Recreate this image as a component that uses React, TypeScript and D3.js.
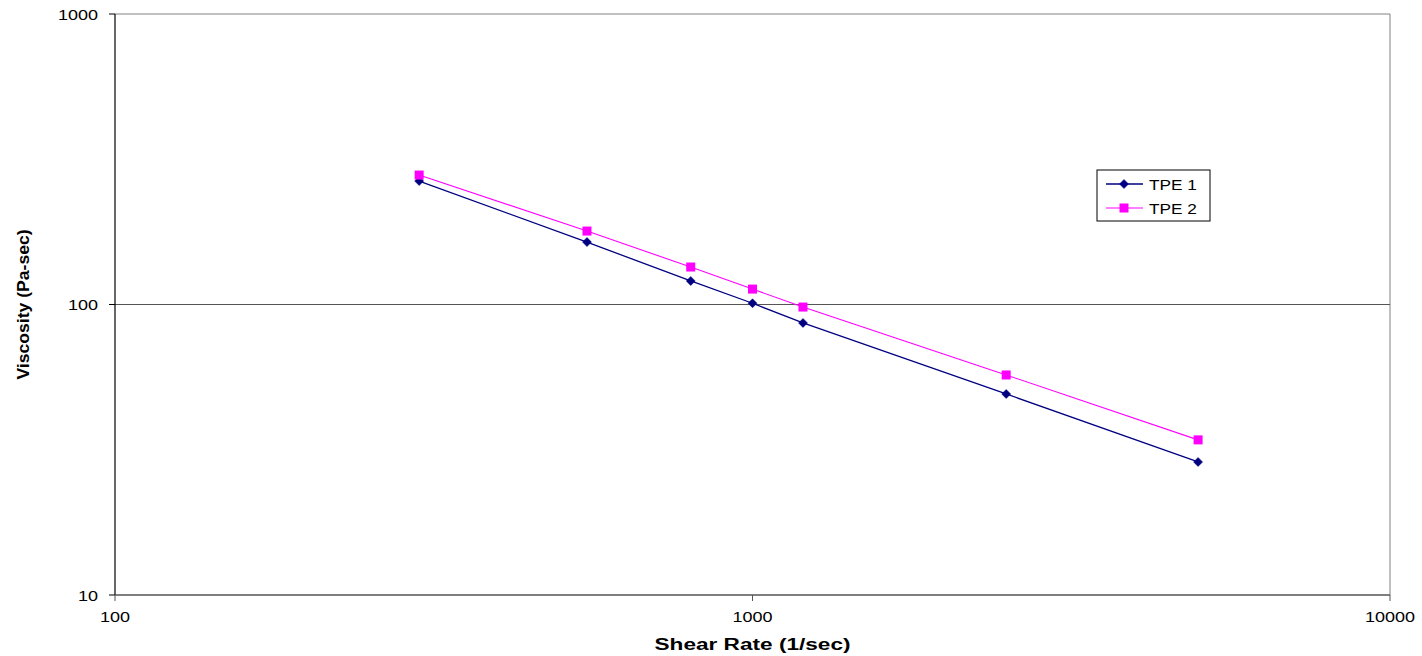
import React from "react";
import * as d3 from "d3";

// Shear rate (1/sec) and viscosity (Pa-sec) for two TPE grades
const shearRate = [300, 550, 800, 1000, 1200, 2500, 5000];
const tpe1 = [266, 164, 120.5, 101, 86.4, 49.2, 28.7];
const tpe2 = [279, 179, 134.6, 113, 98, 57.2, 34.2];
const seriesNames = ["TPE 1", "TPE 2"];
const xTicks = [100, 1000, 10000];
const yTicks = [10, 100, 1000];

const W = 1422;
const H = 656;
const plot = { left: 115, right: 1390, top: 14, bottom: 595 };
const FONT = "'Liberation Sans', Arial, sans-serif";

// Text drawn with a horizontal stretch (wide Excel-style lettering)
function WideText(props: {
  x: number;
  y: number;
  sx: number;
  size: number;
  anchor?: "start" | "middle" | "end";
  bold?: boolean;
  rotate?: number;
  children: React.ReactNode;
}) {
  const { x, y, sx, size, anchor = "start", bold, rotate = 0, children } = props;
  return (
    <text
      transform={`translate(${x},${y}) rotate(${rotate}) scale(${sx},1)`}
      textAnchor={anchor}
      fontSize={size}
      fontWeight={bold ? "bold" : "normal"}
      fill="#000"
    >
      {children}
    </text>
  );
}

export default function App() {
  const x = d3.scaleLog().domain([100, 10000]).range([plot.left, plot.right]);
  const y = d3.scaleLog().domain([10, 1000]).range([plot.bottom, plot.top]);

  const line = d3
    .line<[number, number]>()
    .x((d) => x(d[0]))
    .y((d) => y(d[1]));

  const series = [
    { name: seriesNames[0], values: tpe1, color: "#000080", marker: "diamond", width: 1.3 },
    { name: seriesNames[1], values: tpe2, color: "#FF00FF", marker: "square", width: 1.1 },
  ];

  const marker = (kind: string, cx: number, cy: number, color: string, key?: string | number) =>
    kind === "diamond" ? (
      <path
        key={key}
        d={`M${cx},${cy - 4.5}L${cx + 4.5},${cy}L${cx},${cy + 4.5}L${cx - 4.5},${cy}Z`}
        fill={color}
        stroke={color}
        strokeWidth={0.5}
      />
    ) : (
      <rect key={key} x={cx - 4.5} y={cy - 4.5} width={9} height={9} fill={color} />
    );

  const legend = { x: 1097, y: 170, w: 113, h: 51 };

  return (
    <svg
      width={W}
      height={H}
      style={{ position: "absolute", left: 0, top: 0, background: "#fff" }}
      fontFamily={FONT}
    >
      {/* plot frame and gridline */}
      <line x1={plot.left} x2={plot.right} y1={plot.top} y2={plot.top} stroke="#808080" strokeWidth={1} />
      <line x1={plot.right} x2={plot.right} y1={plot.top} y2={plot.bottom} stroke="#808080" strokeWidth={1} />
      {yTicks.slice(1, -1).map((t) => (
        <line key={t} x1={plot.left} x2={plot.right} y1={y(t)} y2={y(t)} stroke="#555" strokeWidth={1.2} />
      ))}

      {/* axes */}
      <line x1={plot.left} x2={plot.left} y1={plot.top} y2={plot.bottom} stroke="#000" strokeWidth={1.2} />
      <line x1={plot.left} x2={plot.right} y1={plot.bottom} y2={plot.bottom} stroke="#555" strokeWidth={1.5} />

      {yTicks.map((t) => (
        <g key={t}>
          <line x1={plot.left - 6} x2={plot.left} y1={y(t)} y2={y(t)} stroke="#000" />
          <WideText x={plot.left - 17} y={y(t) + 5.5} sx={1.2} size={15} anchor="end">
            {t}
          </WideText>
        </g>
      ))}
      {xTicks.map((t) => (
        <g key={t}>
          <line x1={x(t)} x2={x(t)} y1={plot.bottom} y2={plot.bottom + 6} stroke="#555" />
          <WideText x={x(t)} y={plot.bottom + 27} sx={1.2} size={15} anchor="middle">
            {t}
          </WideText>
        </g>
      ))}

      {/* series */}
      {series.map((s) => {
        const pts = shearRate.map((r, i) => [r, s.values[i]] as [number, number]);
        return (
          <g key={s.name}>
            <path d={line(pts) || ""} fill="none" stroke={s.color} strokeWidth={s.width} />
            {pts.map((p, i) => marker(s.marker, x(p[0]), y(p[1]), s.color, i))}
          </g>
        );
      })}

      {/* axis titles */}
      <WideText x={(plot.left + plot.right) / 2} y={650} sx={1.33} size={17} anchor="middle" bold>
        Shear Rate (1/sec)
      </WideText>
      <WideText x={29} y={(plot.top + plot.bottom) / 2} sx={1.1} size={16} anchor="middle" bold rotate={-90}>
        Viscosity (Pa-sec)
      </WideText>

      {/* legend */}
      <rect x={legend.x} y={legend.y} width={legend.w} height={legend.h} fill="#fff" stroke="#000" strokeWidth={1} />
      {series.map((s, i) => {
        const ly = legend.y + 14 + i * 24;
        return (
          <g key={s.name}>
            <line x1={legend.x + 9} x2={legend.x + 46} y1={ly} y2={ly} stroke={s.color} strokeWidth={s.width} />
            {marker(s.marker, legend.x + 27, ly, s.color)}
            <WideText x={legend.x + 52} y={ly + 5.5} sx={1.15} size={15}>
              {s.name}
            </WideText>
          </g>
        );
      })}
    </svg>
  );
}
